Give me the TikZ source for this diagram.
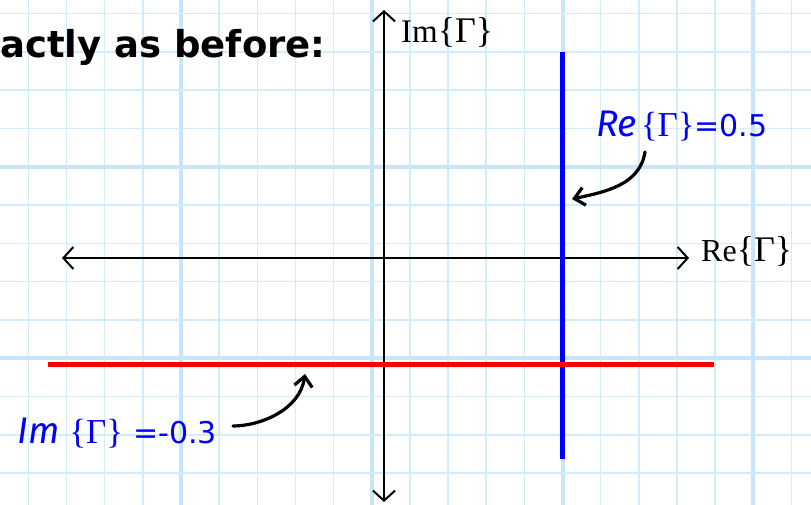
\documentclass[tikz,border=0pt]{standalone}
\usepackage{fontspec}
\setmainfont{Liberation Serif}
\newfontfamily\hdrfont{DejaVu Sans}
\newfontfamily\lblit{Fira Sans}
\newfontfamily\numfont{DejaVu Sans}
\usetikzlibrary{arrows.meta}
\definecolor{gridthin}{RGB}{210,236,252}
\definecolor{gridthick}{RGB}{200,230,250}
\definecolor{lblue}{RGB}{0,0,250}
\definecolor{lred}{RGB}{255,0,0}
\newcommand{\brG}[1]{{\fontsize{#1}{#1}\selectfont\{Γ\}}}
\tikzset{
  thinline/.style={gridthin, line width=1.5pt},
  thickline/.style={gridthick, line width=4pt},
  axis/.style={black, line width=2pt, {Straight Barb[length=10pt,width=22pt,line width=2pt]}-{Straight Barb[length=10pt,width=22pt,line width=2pt]}},
  callout/.style={black, line width=3.2pt, line cap=round, -{Straight Barb[length=10pt,width=18pt,line width=3.2pt]}},
  lbl/.style={inner sep=0pt, anchor=base west},
}
\begin{document}
\begin{tikzpicture}[x=1pt,y=-1pt]
\useasboundingbox (0,0) rectangle (811,505);
\fill[white] (0,0) rectangle (811,505);
% grid
\foreach \i in {0,...,22}{
  \pgfmathsetmacro{\xx}{-9.75+38.15*\i}
  \pgfmathtruncatemacro{\m}{mod(\i,5)}
  \ifnum\m=0
    \draw[thickline] (\xx,0) -- (\xx,505);
  \else
    \draw[thinline] (\xx,0) -- (\xx,505);
  \fi
}
\foreach \i in {0,...,14}{
  \pgfmathsetmacro{\yy}{-24.75+38.3*\i}
  \pgfmathtruncatemacro{\m}{mod(\i,5)}
  \ifnum\m=0
    \draw[thickline] (0,\yy) -- (811,\yy);
  \else
    \draw[thinline] (0,\yy) -- (811,\yy);
  \fi
}
% axes
\coordinate (ytop) at (384,10);
\coordinate (ybot) at (384,502);
\coordinate (xleft) at (62,258);
\coordinate (xright) at (689,258);
\draw[axis] (ybot) -- (ytop);
\draw[axis] (xleft) -- (xright);
% lines
\coordinate (bt) at (562,52);
\coordinate (bb) at (562,459);
\coordinate (rl) at (48,364);
\coordinate (rr) at (714,364);
\draw[lblue, line width=5pt] (bt) -- (bb);
\draw[lred, line width=5pt] (rl) -- (rr);
% texts
\node[lbl] (hdr) at (0,58) {\hdrfont\bfseries\fontsize{37}{42}\selectfont actly as before:};
\node[lbl] (imax) at (401,43) {\fontsize{33}{36}\selectfont Im\brG{36}};
\node[lbl] (reax) at (701,261) {\fontsize{32}{36}\selectfont Re\brG{36}};
\node[lbl, lblue] (relbl) at (596,137) {{\lblit\itshape\fontsize{37}{40}\selectfont Re}\hspace{4pt}\brG{35}{\numfont\fontsize{30}{34}\selectfont =0.5}};
\node[lbl, lblue] (imlbl) at (17,443) {{\lblit\itshape\fontsize{37}{40}\selectfont Im}\hspace{10pt}\brG{35}\hspace{10pt}{\numfont\fontsize{30}{34}\selectfont =-0.3}};
% callouts
\coordinate (reS) at (645,152);
\coordinate (reE) at (572,199);
\coordinate (imS) at (233,426);
\coordinate (imE) at (305,374);
\draw[callout] (reS) .. controls (640,185) and (605,192) .. (reE);
\draw[callout] (imS) .. controls (260,426) and (300,410) .. (imE);
\end{tikzpicture}
\end{document}
